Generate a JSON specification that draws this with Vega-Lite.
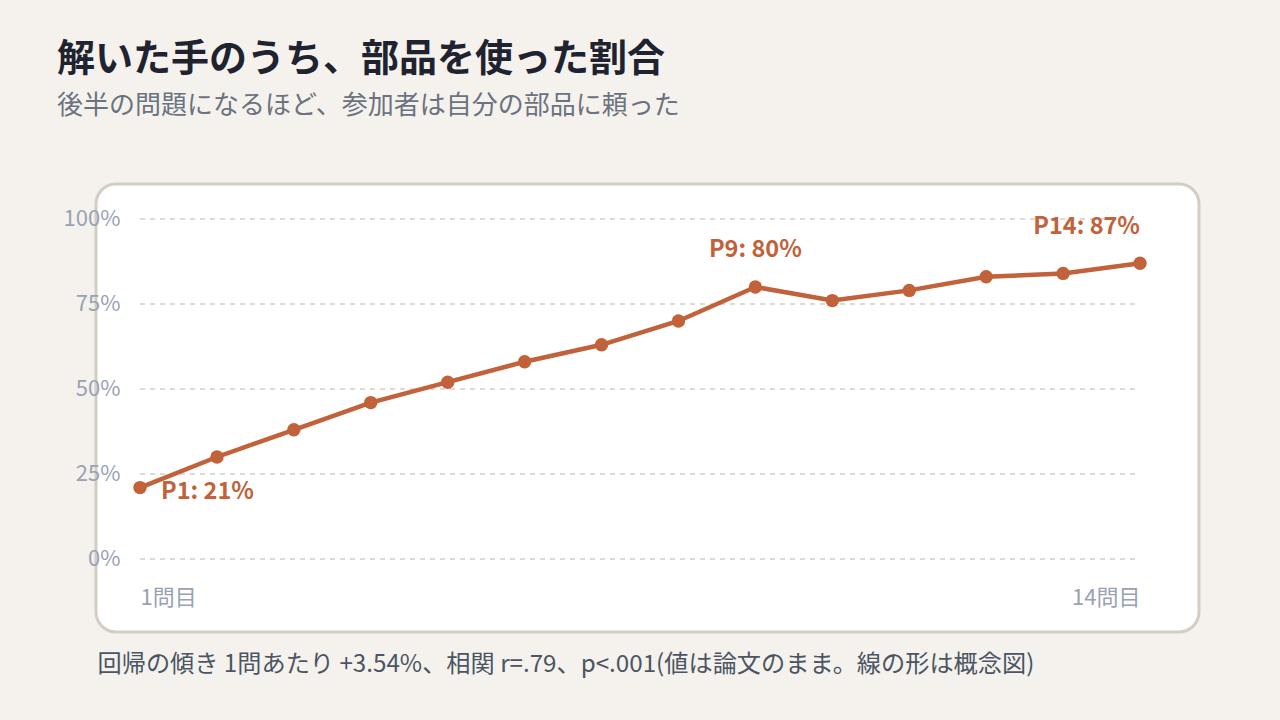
{
  "$schema": "https://vega.github.io/schema/vega-lite/v6.json",
  "autosize": "none",
  "width": 1103,
  "height": 448,
  "padding": {"left": 96, "top": 184, "right": 81, "bottom": 88},
  "background": "#f5f2ed",
  "config": {
    "font": "Noto Sans CJK JP",
    "view": {"fill": "white", "stroke": "#d3cdc2", "strokeWidth": 3, "cornerRadius": 20}
  },
  "title": {
    "text": "解いた手のうち、部品を使った割合",
    "subtitle": "後半の問題になるほど、参加者は自分の部品に頼った",
    "anchor": "start",
    "frame": "group",
    "orient": "top",
    "dx": -39,
    "offset": 65,
    "fontSize": 38,
    "fontWeight": "bold",
    "color": "#1f2330",
    "subtitleFontSize": 26,
    "subtitleColor": "#6b7280",
    "subtitlePadding": 14
  },
  "datasets": {
    "series": [
      {"p": 1, "v": 21}, {"p": 2, "v": 30}, {"p": 3, "v": 38}, {"p": 4, "v": 46},
      {"p": 5, "v": 52}, {"p": 6, "v": 58}, {"p": 7, "v": 63}, {"p": 8, "v": 70},
      {"p": 9, "v": 80}, {"p": 10, "v": 76}, {"p": 11, "v": 79}, {"p": 12, "v": 83},
      {"p": 13, "v": 84}, {"p": 14, "v": 87}
    ],
    "grid": [
      {"g": 0, "a": 1, "b": 14}, {"g": 25, "a": 1, "b": 14}, {"g": 50, "a": 1, "b": 14},
      {"g": 75, "a": 1, "b": 14}, {"g": 100, "a": 1, "b": 14}
    ]
  },
  "layer": [
    {
      "data": {"name": "grid"},
      "mark": {"type": "rule", "stroke": "#d6d0c4", "strokeWidth": 1.5, "strokeDash": [5, 5]},
      "encoding": {
        "y": {"field": "g", "type": "quantitative",
          "scale": {"domain": [-21.47, 110.29], "nice": false, "zero": false},
          "axis": {"values": [0, 25, 50, 75, 100], "title": null, "domain": false, "ticks": false, "tickSize": 0, "grid": false,
            "labelExpr": "datum.value + '%'", "labelPadding": -24, "labelFontSize": 22, "labelColor": "#98a2b3", "labelBaseline": "middle"}},
        "x": {"field": "a", "type": "quantitative",
          "scale": {"domain": [0.428, 14.767], "nice": false, "zero": false},
          "axis": {"values": [1, 14], "domain": false, "ticks": false, "tickSize": 0, "grid": false,
            "labelExpr": "datum.value + '問目'", "labelPadding": -35, "labelFontSize": 22, "labelColor": "#98a2b3",
            "labelBaseline": "middle", "labelFlush": false, "labelOverlap": false,
            "labelAlign": {"condition": {"test": "datum.value < 5", "value": "left"}, "value": "right"},
            "title": "回帰の傾き 1問あたり +3.54%、相関 r=.79、p<.001(値は論文のまま。線の形は概念図)",
            "titleX": 1, "titleY": 32, "titleAlign": "left", "titleAnchor": "start", "titleBaseline": "middle",
            "titleFontSize": 24.2, "titleFontWeight": "normal", "titleColor": "#4b5563"}},
        "x2": {"field": "b"}
      }
    },
    {
      "data": {"name": "series"},
      "mark": {"type": "line", "stroke": "#c1623a", "strokeWidth": 4.5},
      "encoding": {
        "x": {"field": "p", "type": "quantitative"},
        "y": {"field": "v", "type": "quantitative"}
      }
    },
    {
      "data": {"name": "series"},
      "mark": {"type": "circle", "fill": "#c1623a", "opacity": 1, "size": 180},
      "encoding": {
        "x": {"field": "p", "type": "quantitative"},
        "y": {"field": "v", "type": "quantitative"}
      }
    },
    {
      "data": {"name": "series"},
      "transform": [{"filter": "datum.p == 1"}, {"calculate": "'P' + datum.p + ': ' + datum.v + '%'", "as": "label"}],
      "mark": {"type": "text", "align": "left", "baseline": "middle", "dx": 21, "dy": 4, "fontSize": 23.5, "fontWeight": "bold", "fill": "#c1623a"},
      "encoding": {
        "x": {"field": "p", "type": "quantitative"},
        "y": {"field": "v", "type": "quantitative"},
        "text": {"field": "label"}
      }
    },
    {
      "data": {"name": "series"},
      "transform": [{"filter": "datum.p == 9"}, {"calculate": "'P' + datum.p + ': ' + datum.v + '%'", "as": "label"}],
      "mark": {"type": "text", "align": "center", "baseline": "middle", "dy": -37, "fontSize": 23.5, "fontWeight": "bold", "fill": "#c1623a"},
      "encoding": {
        "x": {"field": "p", "type": "quantitative"},
        "y": {"field": "v", "type": "quantitative"},
        "text": {"field": "label"}
      }
    },
    {
      "data": {"name": "series"},
      "transform": [{"filter": "datum.p == 14"}, {"calculate": "'P' + datum.p + ': ' + datum.v + '%'", "as": "label"}],
      "mark": {"type": "text", "align": "right", "baseline": "middle", "dy": -36, "fontSize": 23.5, "fontWeight": "bold", "fill": "#c1623a"},
      "encoding": {
        "x": {"field": "p", "type": "quantitative"},
        "y": {"field": "v", "type": "quantitative"},
        "text": {"field": "label"}
      }
    }
  ]
}
